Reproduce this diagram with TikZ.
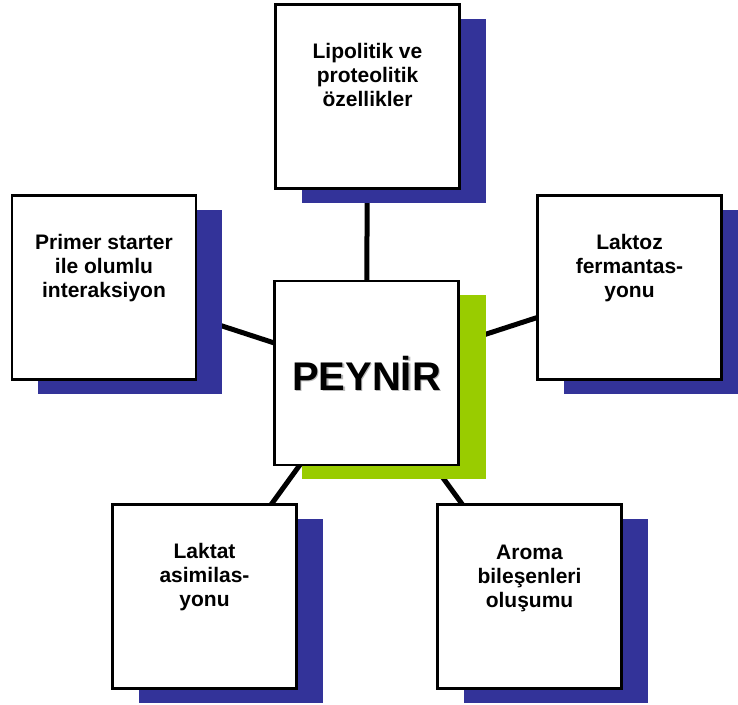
\documentclass[tikz,border=0pt]{standalone}
\usepackage{fontspec}
\setmainfont{Liberation Sans}
\usetikzlibrary{positioning,shadows,backgrounds}
\definecolor{kutumavi}{HTML}{333399}
\definecolor{kutuyesil}{HTML}{99CC00}

\begin{document}
\begin{tikzpicture}[x=1pt,y=-1pt,
    kutu/.style={draw=black, line width=2.2pt, fill=white, minimum size=184pt, inner sep=0pt},
    mavigolge/.style={drop shadow={shadow xshift=26pt, shadow yshift=-14pt, fill=kutumavi, opacity=1}},
    yesilgolge/.style={drop shadow={shadow xshift=27pt, shadow yshift=-14pt, fill=kutuyesil, opacity=1}},
    yazi/.style={align=center, inner sep=0pt, font=\fontsize{21}{24}\selectfont\bfseries},
    buyukyazi/.style={anchor=base, inner sep=0pt, font=\fontsize{40}{48}\selectfont\bfseries},
    baglanti/.style={line width=5pt}]
  \useasboundingbox (0,0) rectangle (738,704);

  % Center box
  \node[kutu, yesilgolge] (peynir) at (366.5,373) {};
  \node[buyukyazi, text=gray!55] (peynirgolge) at ([xshift=1.5pt, yshift=-18.5pt]peynir.center) {PEYNİR};
  \node[buyukyazi] (peyniryazi) at ([yshift=-17pt]peynir.center) {PEYNİR};

  % Outer boxes
  \node[kutu, mavigolge] (lipo) at (367.5,96.5) {};
  \node[kutu, mavigolge] (primer) at (104,287.5) {};
  \node[kutu, mavigolge] (laktoz) at (629.5,287.5) {};
  \node[kutu, mavigolge] (laktat) at (204.5,596.5) {};
  \node[kutu, mavigolge] (aroma) at (529.5,596.5) {};

  % Box texts
  \node[yazi, below=39.5pt of lipo.north] (lipoyazi) {Lipolitik ve\\proteolitik\\özellikler};
  \node[yazi, below=40pt of primer.north] (primeryazi) {Primer starter\\ile olumlu\\interaksiyon};
  \node[yazi, below=40pt of laktoz.north] (laktozyazi) {Laktoz\\fermantas-\\yonu};
  \node[yazi, below=39.5pt of laktat.north] (laktatyazi) {Laktat\\asimilas-\\yonu};
  \node[yazi, below=41pt of aroma.north] (aromayazi) {Aroma\\bileşenleri\\oluşumu};

  % Links (behind boxes and shadows)
  \begin{scope}[on background layer]
    \draw[baglanti] (peynir.center) -- (lipo.center);
    \draw[baglanti] (peynir.center) -- (primer.center);
    \draw[baglanti] (peynir.center) -- (laktoz.center);
    \draw[baglanti] (peynir.center) -- (laktat.center);
    \draw[baglanti] (peynir.center) -- (aroma.center);
  \end{scope}
\end{tikzpicture}
\end{document}
